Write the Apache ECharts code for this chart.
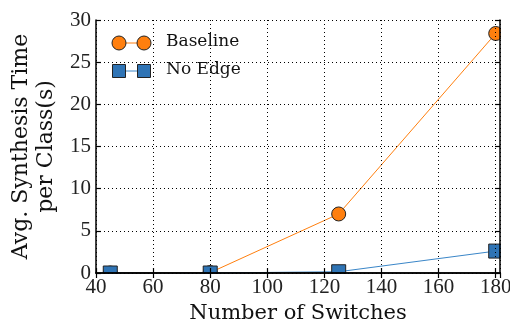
<!DOCTYPE html>
<html>
<head>
<meta charset="utf-8">
<script src="https://cdn.jsdelivr.net/npm/echarts@6/dist/echarts.min.js"></script>
<style>
  html, body { margin: 0; padding: 0; background: #fff; }
  #chart { width: 510px; height: 326px; }
</style>
</head>
<body>
<div id="chart"></div>
<script>
// Average synthesis time per class vs. number of switches
const switches = [45, 80, 125, 180];
const baseline = [0.0, 0.05, 7.0, 28.4];
const noEdge = [0.0, 0.0, 0.15, 2.6];
const xTicks = [40, 60, 80, 100, 120, 140, 160, 180];
const yTicks = [0, 5, 10, 15, 20, 25, 30];

const ORANGE = '#ff7f0e';
const BLUE = '#2f74b5';
const BLUE_LINE = '#3a86c8';
const TICK_FONT = 'Liberation Serif';
const TITLE_FONT = 'DejaVu Serif';

const chart = echarts.init(document.getElementById('chart'), null, { renderer: 'canvas' });

const G = { left: 96, right: 10, top: 20, bottom: 53 };
const frame = { lineStyle: { color: '#000', width: 1.5 } };
const inTicks = { show: true, inside: true, length: 5, lineStyle: { color: '#000', width: 1.2 } };
const dotted = { show: true, lineStyle: { color: '#000', type: [1, 3], width: 1 } };

const pairs = (xs, ys) => xs.map((x, i) => [x, ys[i]]);

chart.setOption({
  animation: false,
  backgroundColor: '#fff',
  grid: Object.assign({ containLabel: false, outerBoundsMode: 'none' }, G),
  xAxis: [
    {
      type: 'value', position: 'bottom', min: xTicks[0], max: 181.5, interval: 20, z: 10,
      axisLine: frame, axisTick: inTicks, splitLine: dotted,
      axisLabel: { color: '#222', fontFamily: TICK_FONT, fontSize: 21, margin: 4, showMaxLabel: false },
      name: 'Number of Switches', nameLocation: 'middle', nameGap: 29,
      nameTextStyle: { color: '#111', fontFamily: TITLE_FONT, fontSize: 21 }
    },
    {
      type: 'value', position: 'top', min: xTicks[0], max: 181.5, interval: 20, z: 10,
      axisLine: frame, axisTick: inTicks, splitLine: { show: false },
      axisLabel: { show: false }
    }
  ],
  yAxis: [
    {
      type: 'value', position: 'left', min: yTicks[0], max: yTicks[yTicks.length - 1], interval: 5, z: 10,
      axisLine: frame, axisTick: inTicks, splitLine: dotted,
      axisLabel: { color: '#222', fontFamily: TICK_FONT, fontSize: 21, margin: 5 },
      name: 'Avg. Synthesis Time\nper Class(s)', nameLocation: 'middle', nameGap: 37,
      nameTextStyle: { color: '#111', fontFamily: TITLE_FONT, fontSize: 22, lineHeight: 25, align: 'center' }
    },
    {
      type: 'value', position: 'right', min: yTicks[0], max: yTicks[yTicks.length - 1], interval: 5, z: 10,
      axisLine: frame, axisTick: inTicks, splitLine: { show: false },
      axisLabel: { show: false }
    }
  ],
  series: [
    {
      name: 'Baseline', type: 'line', xAxisIndex: 0, yAxisIndex: 0,
      data: pairs(switches, baseline), clip: false,
      symbol: 'circle', symbolSize: 14,
      lineStyle: { color: ORANGE, width: 1 },
      itemStyle: { color: ORANGE, borderColor: '#222', borderWidth: 1 }
    },
    {
      name: 'No Edge', type: 'line', xAxisIndex: 0, yAxisIndex: 0,
      data: pairs(switches, noEdge), clip: false,
      symbol: 'rect', symbolSize: 14,
      lineStyle: { color: BLUE_LINE, width: 1 },
      itemStyle: { color: BLUE, borderColor: '#222', borderWidth: 1 }
    }
  ],
  graphic: [
    // white masks so markers stop at the plot frame
    { type: 'rect', z: 5, shape: { x: 0, y: 326 - G.bottom + 0.8, width: 510, height: 9 }, style: { fill: '#fff' } },
    { type: 'rect', z: 5, shape: { x: 510 - G.right + 0.8, y: 0, width: 10, height: 326 }, style: { fill: '#fff' } },
    // legend
    { type: 'line', z: 20, shape: { x1: 119, y1: 43, x2: 144, y2: 43 }, style: { stroke: ORANGE, lineWidth: 1 } },
    { type: 'circle', z: 21, shape: { cx: 119, cy: 43, r: 7 }, style: { fill: ORANGE, stroke: '#222', lineWidth: 1 } },
    { type: 'circle', z: 21, shape: { cx: 144, cy: 43, r: 7 }, style: { fill: ORANGE, stroke: '#222', lineWidth: 1 } },
    { type: 'text', z: 21, left: 166, top: 33, style: { text: 'Baseline', font: '17px "DejaVu Serif"', fill: '#111' } },
    { type: 'line', z: 20, shape: { x1: 119, y1: 71, x2: 144, y2: 71 }, style: { stroke: BLUE_LINE, lineWidth: 1 } },
    { type: 'rect', z: 21, shape: { x: 112.5, y: 64.5, width: 13, height: 13 }, style: { fill: BLUE, stroke: '#222', lineWidth: 1 } },
    { type: 'rect', z: 21, shape: { x: 137.5, y: 64.5, width: 13, height: 13 }, style: { fill: BLUE, stroke: '#222', lineWidth: 1 } },
    { type: 'text', z: 21, left: 166, top: 61, style: { text: 'No Edge', font: '17px "DejaVu Serif"', fill: '#111' } }
  ]
});
</script>
</body>
</html>
